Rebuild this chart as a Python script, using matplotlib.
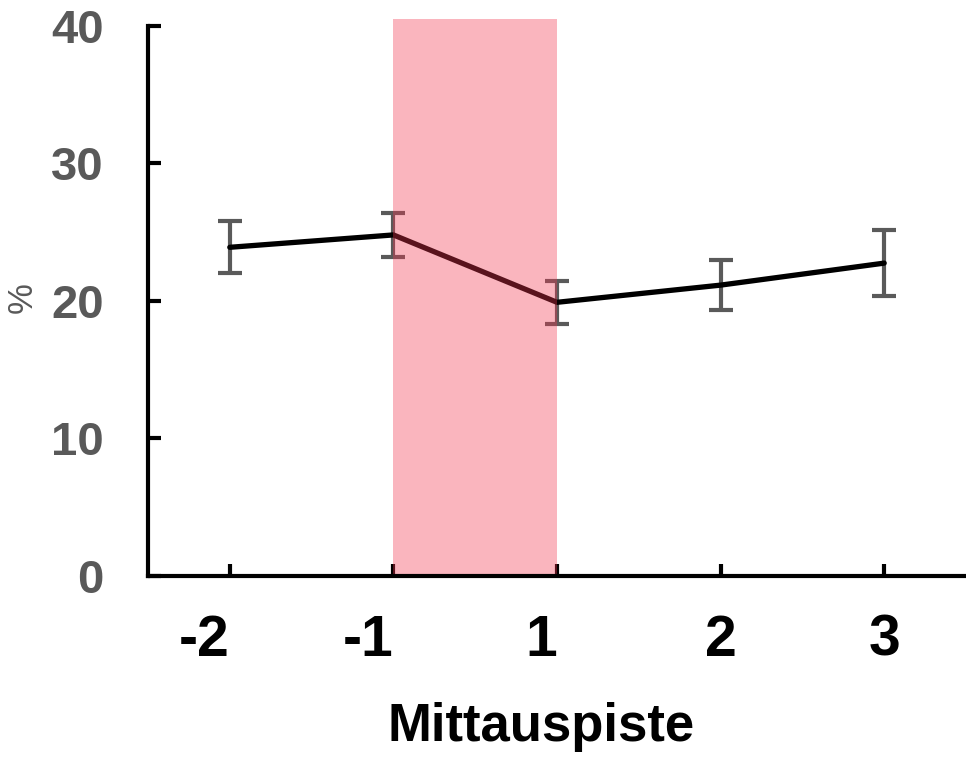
import matplotlib
matplotlib.use("Agg")
import matplotlib.pyplot as plt
import numpy as np

plt.rcParams['font.family'] = ['Liberation Sans', 'DejaVu Sans']

# measurement points and mean percentages with error
labels = ['-2', '-1', '1', '2', '3']
means = [23.9, 24.8, 19.9, 21.15, 22.75]
errors = [1.9, 1.6, 1.55, 1.8, 2.4]

x = np.arange(len(labels))

fig = plt.figure(figsize=(9.66, 7.63), dpi=100)
ax = fig.add_axes([148 / 966, 1 - 576 / 763, 1 - 148 / 966, (576 - 19) / 763])

ax.errorbar(x, means, yerr=errors, fmt='none', ecolor='#5a5a5a',
            elinewidth=3, capsize=8.5, capthick=3, zorder=2)
ax.plot(x, means, color='black', lw=3.8, solid_capstyle='round', zorder=2.1)

# highlighted interval between -1 and 1
ax.axvspan(1, 2, color=(243 / 255, 54 / 255, 81 / 255), alpha=0.37, lw=0, zorder=3)

ax.set_xlim(-0.5, 4.5)
ax.set_ylim(0, 40.5)
ax.set_yticks([0, 10, 20, 30, 40])
ax.set_xticks(x)
ax.set_xticklabels(labels)

for s in ['top', 'right']:
    ax.spines[s].set_visible(False)
for s in ['left', 'bottom']:
    ax.spines[s].set_linewidth(3)
    ax.spines[s].set_zorder(4)
ax.spines['left'].set_bounds(0, 40)

ax.tick_params(axis='both', direction='in', length=9, width=3, color='black')
ax.tick_params(axis='y', labelsize=34, labelcolor='#595959', pad=32)
ax.tick_params(axis='x', labelsize=41, labelcolor='black', pad=27)
for lab in ax.get_yticklabels() + ax.get_xticklabels():
    lab.set_fontweight('bold')
for lab in ax.get_xticklabels()[:3]:
    lab.set_horizontalalignment('right')

ax.set_xlabel('Mittauspiste', fontsize=38, fontweight='bold', labelpad=25)
ax.xaxis.label.set_x(0.48)
ax.set_ylabel('%', fontsize=25, color='#595959', labelpad=9)

fig.savefig('out.png', dpi=100)
